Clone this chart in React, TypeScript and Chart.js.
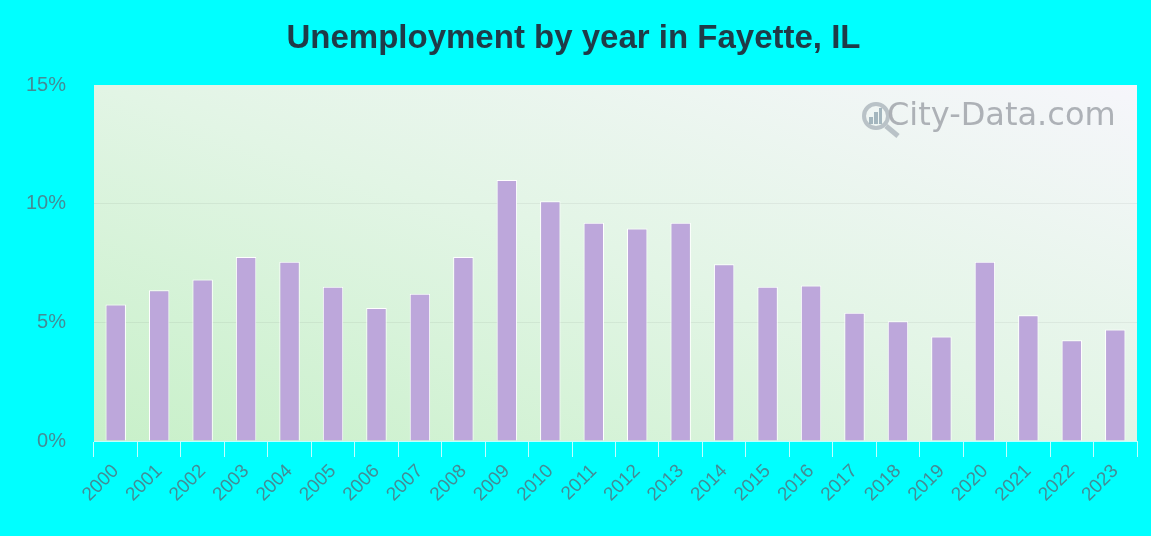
import React, { useEffect, useRef } from "react";
import { Chart, registerables } from "chart.js";

Chart.register(...registerables);

const years: string[] = [
  "2000", "2001", "2002", "2003", "2004", "2005", "2006", "2007", "2008", "2009", "2010", "2011",
  "2012", "2013", "2014", "2015", "2016", "2017", "2018", "2019", "2020", "2021", "2022", "2023",
];
const unemployment: number[] = [
  5.75, 6.35, 6.8, 7.75, 7.55, 6.5, 5.6, 6.2, 7.75, 11.0, 10.1, 9.2,
  8.95, 9.2, 7.45, 6.5, 6.55, 5.4, 5.05, 4.4, 7.55, 5.3, 4.25, 4.7,
];
const yTicks: number[] = [0, 5, 10, 15];
const titleText = "Unemployment by year in Fayette, IL";
const watermark = "City-Data.com";

const bgPlugin = {
  id: "plotBg",
  beforeDraw(chart: any) {
    const { ctx, chartArea } = chart;
    if (!chartArea) return;
    const { left, top, right, bottom } = chartArea;
    const w = right - left;
    const h = bottom - top;
    const k = (2 * w * h) / (w * w + h * h);
    ctx.save();
    const g = ctx.createLinearGradient(left, bottom, left + k * h, bottom - k * w);
    g.addColorStop(0, "#c8f0c9");
    g.addColorStop(0.5, "#e2f5e5");
    g.addColorStop(1, "#f6f6fb");
    ctx.fillStyle = g;
    ctx.fillRect(left, top, w, h);
    ctx.restore();
  },
  afterDraw(chart: any) {
    const { ctx, chartArea } = chart;
    if (!chartArea) return;
    ctx.save();
    const cx = chartArea.right - 261;
    const cy = chartArea.top + 31;
    // magnifier icon
    ctx.strokeStyle = "rgba(175,185,190,0.85)";
    ctx.lineWidth = 4;
    ctx.beginPath();
    ctx.arc(cx, cy, 12, 0, Math.PI * 2);
    ctx.stroke();
    ctx.lineWidth = 5;
    ctx.beginPath();
    ctx.moveTo(cx + 10, cy + 10);
    ctx.lineTo(cx + 22, cy + 20);
    ctx.stroke();
    ctx.fillStyle = "rgba(150,170,180,0.85)";
    ctx.fillRect(cx - 7, cy + 1, 4, 7);
    ctx.fillRect(cx - 2, cy - 4, 4, 12);
    ctx.fillRect(cx + 3, cy - 8, 3, 16);
    ctx.font = "32px 'DejaVu Sans', Verdana, sans-serif";
    ctx.fillStyle = "rgba(165,170,175,0.9)";
    ctx.textBaseline = "middle";
    ctx.fillText(watermark, cx + 11, cy + 1);
    ctx.restore();
  },
};

export default function App() {
  const ref = useRef<HTMLCanvasElement | null>(null);
  useEffect(() => {
    document.body.style.margin = "0";
    const canvas = ref.current;
    if (!canvas) return;
    const chart = new Chart(canvas, {
      type: "bar",
      data: {
        labels: years,
        datasets: [
          {
            data: unemployment,
            backgroundColor: "#bda7db",
            borderColor: "#ffffff",
            borderWidth: 1,
            barPercentage: 0.47,
            categoryPercentage: 1,
          },
        ],
      },
      options: {
        animation: false,
        responsive: false,
        maintainAspectRatio: false,
        layout: { padding: { left: 10, right: 14, top: 0, bottom: 0 } },
        plugins: {
          legend: { display: false },
          tooltip: { enabled: false },
          title: {
            display: true,
            text: titleText,
            color: "#1f3b48",
            font: { family: "Arial, 'Liberation Sans', sans-serif", size: 33, weight: "bold", lineHeight: 1.2 },
            padding: { top: 19, bottom: 26.4 },
          },
        },
        scales: {
          x: {
            afterFit(axis: any) {
              axis.height = 95;
            },
            grid: {
              display: true,
              offset: true,
              drawOnChartArea: false,
              drawTicks: true,
              tickLength: 16,
              color: "rgba(255,255,255,0.75)",
            },
            border: { display: true, color: "rgba(255,255,255,0.75)" },
            ticks: {
              color: "#438c96",
              font: { family: "Arial, 'Liberation Sans', sans-serif", size: 19 },
              maxRotation: 45,
              minRotation: 45,
              padding: 3,
            },
          },
          y: {
            min: 0,
            max: 15,
            afterBuildTicks(axis: any) {
              axis.ticks = yTicks.map((v) => ({ value: v }));
            },
            afterFit(axis: any) {
              axis.width = 84;
            },
            grid: {
              color: (c: any) => (c.tick && (c.tick.value === 5 || c.tick.value === 10) ? "rgba(0,0,0,0.05)" : "rgba(0,0,0,0)"),
              drawTicks: false,
            },
            border: { display: false },
            ticks: {
              color: "#438c96",
              font: { family: "Arial, 'Liberation Sans', sans-serif", size: 20 },
              padding: 28,
              callback: (v: any) => v + "%",
            },
          },
        },
      },
      plugins: [bgPlugin],
    });
    return () => chart.destroy();
  }, []);
  return (
    <div style={{ width: 1151, height: 536, background: "#00ffff" }}>
      <canvas ref={ref} width={1151} height={536} style={{ display: "block" }} />
    </div>
  );
}
